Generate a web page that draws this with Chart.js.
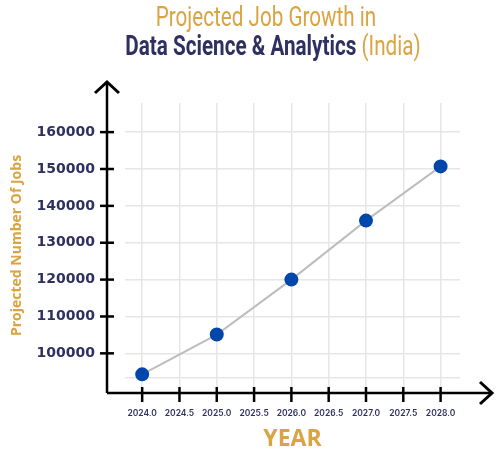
<!DOCTYPE html>
<html>
<head>
<meta charset="utf-8">
<script src="https://cdn.jsdelivr.net/npm/chart.js@4"></script>
<style>
  html, body { margin:0; padding:0; background:#fff; }
  #wrap { position:relative; width:500px; height:450px; }
  .t { position:absolute; width:500px; text-align:center; font-family:Roboto, sans-serif; font-size:27px; line-height:30px; white-space:nowrap; transform:scaleX(0.765); transform-origin:center; }
  #t1 { left:16px; top:2px; color:#d9a441; font-weight:400; }
  #t2 { left:23px; top:31px; color:#2e3160; font-weight:700; }
  #t2 span { color:#d9a441; font-weight:400; }
</style>
</head>
<body>
<div id="wrap">
  <canvas id="c" width="500" height="450"></canvas>
  <div class="t" id="t1">Projected Job Growth in</div>
  <div class="t" id="t2">Data Science &amp; Analytics <span>(India)</span></div>
</div>
<script>
const years = [2024, 2025, 2026, 2027, 2028];
const jobs = [94300, 105100, 120000, 136000, 150700];
const xTickValues = [2024, 2024.5, 2025, 2025.5, 2026, 2026.5, 2027, 2027.5, 2028];
const yTickValues = [100000, 110000, 120000, 130000, 140000, 150000, 160000];
const yGridValues = [93300, 100000, 110000, 120000, 130000, 140000, 150000, 160000];

const GOLD = '#d9a441';
const NAVY = '#2e3160';

const axisDecor = {
  id: 'axisDecor',
  afterDraw(chart) {
    const { ctx, chartArea: a, scales: { x, y } } = chart;
    const ax = a.left - 18, ay = a.bottom + 5;
    ctx.save();
    ctx.strokeStyle = '#000';
    ctx.lineWidth = 2.5;
    ctx.lineCap = 'butt';
    // y axis
    ctx.beginPath();
    ctx.moveTo(ax, ay);
    ctx.lineTo(ax, a.top - 21);
    ctx.stroke();
    ctx.beginPath();
    ctx.moveTo(ax - 12, a.top - 10);
    ctx.lineTo(ax, a.top - 21);
    ctx.lineTo(ax + 12, a.top - 10);
    ctx.lineWidth = 3;
    ctx.stroke();
    // x axis
    ctx.lineWidth = 2.5;
    ctx.beginPath();
    ctx.moveTo(ax, ay);
    ctx.lineTo(a.right + 31, ay);
    ctx.stroke();
    ctx.lineWidth = 3;
    ctx.beginPath();
    ctx.moveTo(a.right + 20, ay - 11);
    ctx.lineTo(a.right + 32, ay);
    ctx.lineTo(a.right + 20, ay + 11);
    ctx.stroke();
    // tick crossbars
    ctx.lineWidth = 2.5;
    yTickValues.forEach(v => {
      const py = y.getPixelForValue(v);
      ctx.beginPath();
      ctx.moveTo(ax - 7, py);
      ctx.lineTo(ax + 7, py);
      ctx.stroke();
    });
    xTickValues.forEach(v => {
      const px = x.getPixelForValue(v);
      ctx.beginPath();
      ctx.moveTo(px, ay - 6);
      ctx.lineTo(px, ay + 9);
      ctx.stroke();
    });
    ctx.restore();
  }
};

new Chart(document.getElementById('c'), {
  type: 'scatter',
  data: {
    datasets: [{
      data: years.map((yr, i) => ({ x: yr, y: jobs[i] })),
      showLine: true,
      borderColor: '#bdbdbd',
      borderWidth: 2,
      pointBackgroundColor: '#0047ab',
      pointBorderColor: '#0047ab',
      pointRadius: 6,
      pointHoverRadius: 6
    }]
  },
  options: {
    responsive: false,
    animation: false,
    events: [],
    layout: { padding: { left: 0, right: 40, top: 103, bottom: 0 } },
    plugins: { legend: { display: false }, tooltip: { enabled: false }, title: { display: false } },
    scales: {
      x: {
        type: 'linear',
        min: 2023.77,
        max: 2028.26,
        afterBuildTicks: s => { s.ticks = xTickValues.map(v => ({ value: v })); },
        afterFit: s => { s.height = 62; },
        border: { display: false },
        grid: { color: '#e6e6e6', lineWidth: 1.5, drawTicks: false },
        ticks: {
          padding: 20,
          color: NAVY,
          font: { family: 'Inter', size: 8.5, weight: '600' },
          callback: v => Number(v).toFixed(1),
          maxRotation: 0,
          autoSkip: false
        },
        title: {
          display: true,
          text: 'YEAR',
          color: GOLD,
          font: { family: 'Open Sans', size: 23, weight: 'bold' },
          padding: { top: 0, bottom: -3 }
        }
      },
      y: {
        min: 90600,
        max: 167900,
        afterBuildTicks: s => { s.ticks = yGridValues.map(v => ({ value: v })); },
        afterFit: s => { s.width = 125; },
        border: { display: false },
        grid: { color: '#e6e6e6', lineWidth: 1.5, drawTicks: false },
        ticks: {
          padding: 30,
          color: NAVY,
          font: { family: 'DejaVu Sans', size: 14, weight: 'bold' },
          callback: v => yTickValues.includes(v) ? String(v) : '',
          autoSkip: false
        },
        title: {
          display: true,
          text: 'Projected Number Of Jobs',
          color: GOLD,
          font: { family: 'Open Sans', size: 14, weight: 'bold' },
          padding: { top: 9, bottom: 0 }
        }
      }
    }
  },
  plugins: [axisDecor]
});
</script>
</body>
</html>
